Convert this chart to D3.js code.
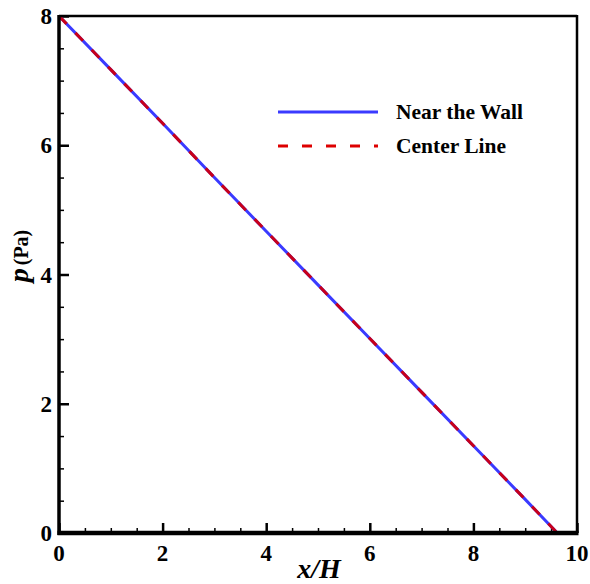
<!DOCTYPE html>
<html>
<head>
<meta charset="utf-8">
<script src="https://cdn.jsdelivr.net/npm/d3@7"></script>
<style>
  html, body { margin: 0; padding: 0; background: #fff; }
  svg { display: block; }
</style>
</head>
<body>
<svg id="chart" width="590" height="584"></svg>
<script>
// Pressure along the channel, x/H vs p (Pa)
const nearWallX = [0, 1, 2, 3, 4, 5, 6, 7, 8, 9, 9.62];
const nearWallP = [8, 7.17, 6.34, 5.5, 4.67, 3.84, 3.01, 2.18, 1.35, 0.52, 0];
const centerX = [0, 1, 2, 3, 4, 5, 6, 7, 8, 9, 9.62];
const centerP = [8, 7.17, 6.34, 5.5, 4.67, 3.84, 3.01, 2.18, 1.35, 0.52, 0];
const xTicks = [0, 2, 4, 6, 8, 10];
const yTicks = [0, 2, 4, 6, 8];
const seriesNames = ["Near the Wall", "Center Line"];

const FONT = "'Liberation Serif', 'Times New Roman', Times, 'DejaVu Serif', serif";

const svg = d3.select("#chart");
const m = { left: 59, right: 13, top: 16, bottom: 51 };
const W = 590, H = 584;

const x = d3.scaleLinear().domain([0, 10]).range([m.left, W - m.right]);
const y = d3.scaleLinear().domain([0, 8]).range([H - m.bottom, m.top]);

// minor and major ticks drawn inward
const xMinor = d3.range(0, 10.01, 0.5).filter(v => !xTicks.includes(v));
const yMinor = d3.range(0, 8.01, 0.5).filter(v => !yTicks.includes(v));

const xAxisMinor = d3.axisTop(x).tickValues(xMinor).tickSize(5).tickFormat("");
const xAxisMajor = d3.axisTop(x).tickValues(xTicks).tickSize(10).tickFormat("");
const yAxisMinor = d3.axisRight(y).tickValues(yMinor).tickSize(5).tickFormat("");
const yAxisMajor = d3.axisRight(y).tickValues(yTicks).tickSize(10).tickFormat("");

function styleAxis(g) {
  g.select(".domain").remove();
  g.selectAll(".tick line").attr("stroke", "#000").attr("stroke-width", 1.5);
}
svg.append("g").attr("transform", `translate(0,${y(0)})`).call(xAxisMinor).call(styleAxis);
svg.append("g").attr("transform", `translate(0,${y(0)})`).call(xAxisMajor).call(styleAxis)
  .selectAll(".tick line").attr("stroke-width", 2.5);
svg.append("g").attr("transform", `translate(${x(0)},0)`).call(yAxisMinor).call(styleAxis);
svg.append("g").attr("transform", `translate(${x(0)},0)`).call(yAxisMajor).call(styleAxis)
  .selectAll(".tick line").attr("stroke-width", 2.5);

// tick labels
svg.append("g").selectAll("text").data(xTicks).join("text")
  .attr("x", d => x(d)).attr("y", y(0) + 28)
  .attr("text-anchor", "middle")
  .attr("font-family", FONT).attr("font-weight", "bold").attr("font-size", 23)
  .text(d => d);
svg.append("g").selectAll("text").data(yTicks).join("text")
  .attr("x", x(0) - 7).attr("y", d => y(d) + 8)
  .attr("text-anchor", "end")
  .attr("font-family", FONT).attr("font-weight", "bold").attr("font-size", 23)
  .text(d => d);

// data lines
const lineGen = d3.line().x(d => x(d[0])).y(d => y(d[1]));
svg.append("path")
  .datum(nearWallX.map((v, i) => [v, nearWallP[i]]))
  .attr("d", lineGen).attr("fill", "none")
  .attr("stroke", "#3a3aff").attr("stroke-width", 3);
svg.append("path")
  .datum(centerX.map((v, i) => [v, centerP[i]]))
  .attr("d", lineGen).attr("fill", "none")
  .attr("stroke", "#c8001a").attr("stroke-width", 3)
  .attr("stroke-dasharray", "11,12.5");

// frame
svg.append("line").attr("x1", x(0)).attr("x2", x(10)).attr("y1", y(8)).attr("y2", y(8))
  .attr("stroke", "#000").attr("stroke-width", 2.5);
svg.append("line").attr("x1", x(10)).attr("x2", x(10)).attr("y1", y(8) - 1).attr("y2", y(0))
  .attr("stroke", "#000").attr("stroke-width", 2.5);
svg.append("line").attr("x1", x(0)).attr("x2", x(0)).attr("y1", y(8) - 1).attr("y2", y(0) + 2)
  .attr("stroke", "#000").attr("stroke-width", 3.5);
svg.append("line").attr("x1", x(0) - 1.5).attr("x2", x(10) + 1.5).attr("y1", y(0)).attr("y2", y(0))
  .attr("stroke", "#000").attr("stroke-width", 4.5);

// legend
const leg = svg.append("g");
leg.append("line").attr("x1", 278).attr("x2", 378).attr("y1", 112).attr("y2", 112)
  .attr("stroke", "#3a3aff").attr("stroke-width", 3);
leg.append("line").attr("x1", 278).attr("x2", 378).attr("y1", 146).attr("y2", 146)
  .attr("stroke", "#dd0000").attr("stroke-width", 3).attr("stroke-dasharray", "10,14");
leg.selectAll("text").data(seriesNames).join("text")
  .attr("x", 396).attr("y", (d, i) => 119 + i * 33.5)
  .attr("font-family", FONT).attr("font-weight", "bold").attr("font-size", 21.5)
  .text(d => d);

// axis titles
svg.append("text").attr("x", (x(0) + x(10)) / 2 + 1).attr("y", 578)
  .attr("text-anchor", "middle")
  .attr("font-family", FONT).attr("font-weight", "bold").attr("font-style", "italic")
  .attr("font-size", 28)
  .text("x/H");
const yl = svg.append("text")
  .attr("transform", "translate(28,256) rotate(-90)")
  .attr("text-anchor", "middle")
  .attr("font-family", FONT).attr("font-weight", "bold");
yl.append("tspan").attr("font-size", 28).attr("font-style", "italic").text("p");
yl.append("tspan").attr("font-size", 20).attr("dx", 3).text("(Pa)");
</script>
</body>
</html>
